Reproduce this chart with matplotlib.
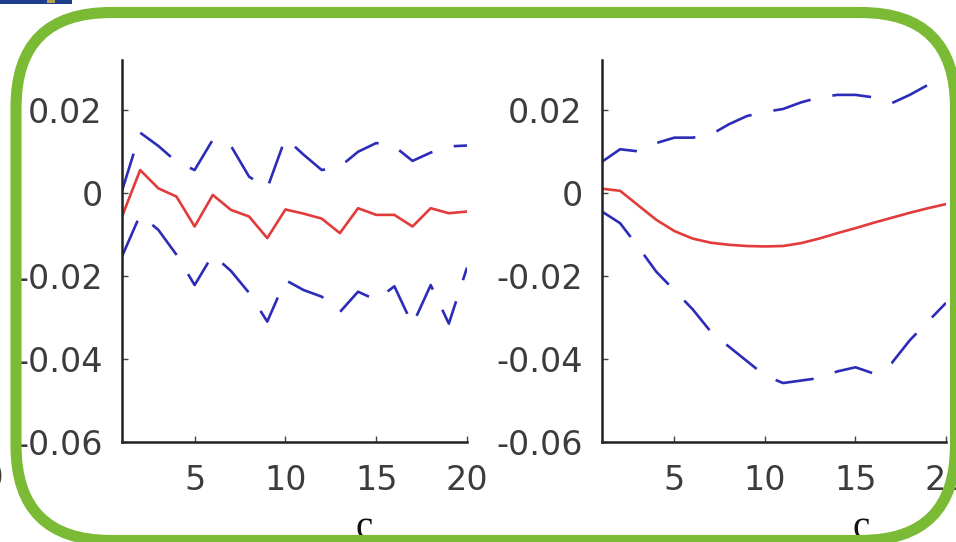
import matplotlib
matplotlib.use("Agg")
import matplotlib.pyplot as plt
from matplotlib.patches import FancyBboxPatch, Rectangle

# Impulse horizons
horizon = list(range(1, 21))

# Left panel: point response and error bands
resp_left = [-0.0057, 0.0055, 0.0011, -0.0009, -0.0081, -0.0005, -0.0041, -0.0057,
             -0.0109, -0.0040, -0.0050, -0.0062, -0.0097, -0.0037, -0.0053, -0.0053,
             -0.0081, -0.0037, -0.0049, -0.0045]
upper_left = [0.0005, 0.0145, 0.0113, 0.0075, 0.0055, 0.0128, 0.0113, 0.0039,
              0.0011, 0.0132, 0.0092, 0.0055, 0.0063, 0.0099, 0.0120, 0.0112,
              0.0077, 0.0097, 0.0112, 0.0114]
lower_left = [-0.0153, -0.0053, -0.0089, -0.0149, -0.0222, -0.0149, -0.0188, -0.0241,
              -0.0310, -0.0210, -0.0234, -0.0250, -0.0287, -0.0238, -0.0258, -0.0225,
              -0.0318, -0.0222, -0.0315, -0.0180]

# Right panel: point response and error bands
resp_right = [0.0010, 0.0005, -0.0030, -0.0065, -0.0092, -0.0110, -0.0120, -0.0125,
              -0.0128, -0.0129, -0.0128, -0.0121, -0.0110, -0.0097, -0.0085, -0.0072,
              -0.0060, -0.0048, -0.0037, -0.0027]
upper_right = [0.0075, 0.0105, 0.0100, 0.0120, 0.0133, 0.0133, 0.0140, 0.0165,
               0.0185, 0.0195, 0.0202, 0.0218, 0.0230, 0.0236, 0.0236, 0.0230,
               0.0216, 0.0236, 0.0260, 0.0278]
lower_right = [-0.0045, -0.0073, -0.0130, -0.0190, -0.0235, -0.0280, -0.0334, -0.0370,
               -0.0405, -0.0440, -0.0458, -0.0452, -0.0446, -0.0430, -0.0420, -0.0435,
               -0.0410, -0.0355, -0.0310, -0.0265]

x_ticks = [5, 10, 15, 20]
y_ticks = [-0.06, -0.04, -0.02, 0, 0.02]
y_tick_labels = ["-0.06", "-0.04", "-0.02", "0", "0.02"]
x_label = "c"

plt.rcParams["lines.scale_dashes"] = False

W, H = 956, 542
fig = plt.figure(figsize=(W / 100, H / 100), dpi=100)
fig.patch.set_facecolor("white")

RED = "#e23b3b"
BLUE = "#2c2cb8"
TEXT = "#3c3c3c"


def px_axes(x0, x1, ytop, ybot):
    return [x0 / W, 1 - ybot / H, (x1 - x0) / W, (ybot - ytop) / H]


def draw_panel(rect, resp, upper, lower):
    ax = fig.add_axes(rect)
    ax.plot(horizon, upper, color=BLUE, lw=1.9, dashes=(28, 16))
    ax.plot(horizon, lower, color=BLUE, lw=1.9, dashes=(28, 16))
    ax.plot(horizon, resp, color=RED, lw=1.9)
    ax.set_xlim(1, 20)
    ax.set_ylim(-0.06, 0.032)
    ax.set_xticks(x_ticks)
    ax.set_xticklabels([str(v) for v in x_ticks])
    ax.set_yticks(y_ticks)
    ax.set_yticklabels(y_tick_labels)
    for side in ("top", "right"):
        ax.spines[side].set_visible(False)
    for side in ("left", "bottom"):
        ax.spines[side].set_linewidth(1.8)
        ax.spines[side].set_color("#222222")
    ax.tick_params(direction="in", length=4, width=1, color="#444444",
                   labelsize=24, labelcolor=TEXT)
    ax.tick_params(axis="x", pad=16)
    ax.tick_params(axis="y", pad=14)
    for lab in ax.get_xticklabels() + ax.get_yticklabels():
        lab.set_family("DejaVu Sans")
    ax.set_facecolor("none")
    return ax


draw_panel(px_axes(122, 467, 60, 442), resp_left, upper_left, lower_left)
draw_panel(px_axes(602, 946, 60, 442), resp_right, upper_right, lower_right)

# Axis captions (serif), partially tucked under the frame
for xc in (364, 861):
    fig.text(xc / W, 1 - 538 / H, x_label, ha="center", va="baseline",
             fontsize=28, family="Liberation Serif", color="#111111")

# Edge of a neighbouring tick label at the far left
fig.text(4 / W, 1 - 478 / H, "20", ha="right", va="center",
         fontsize=24, family="DejaVu Sans", color=TEXT)

# Header strip in the top-left corner
fig.add_artist(Rectangle((0, 1 - 4 / H), 72 / W, 4 / H, transform=fig.transFigure,
                         facecolor="#1f3d8a", edgecolor="none", zorder=11))
fig.add_artist(Rectangle((47 / W, 1 - 3 / H), 8 / W, 3 / H, transform=fig.transFigure,
                         facecolor="#b9a24a", edgecolor="none", zorder=12))

# Rounded green frame
frame = FancyBboxPatch((16 / 100, (H - 540.5) / 100), (955.5 - 16) / 100,
                       (540.5 - 12.5) / 100,
                       boxstyle="round,pad=0,rounding_size=0.95",
                       transform=fig.dpi_scale_trans, facecolor="none",
                       edgecolor="#7aba34", linewidth=8, zorder=10)
fig.add_artist(frame)

fig.savefig("out.png", dpi=100, facecolor="white")
